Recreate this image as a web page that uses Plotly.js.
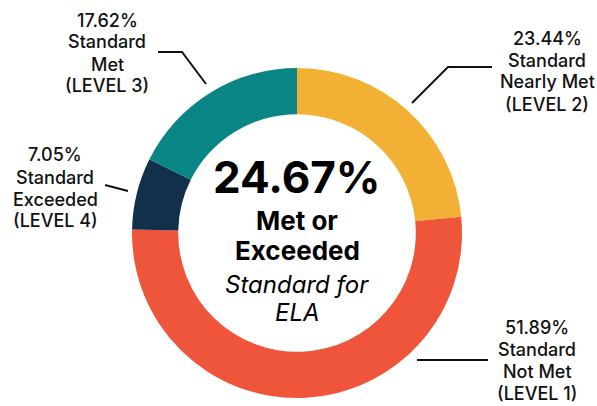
<!DOCTYPE html>
<html>
<head>
<meta charset="utf-8">
<script src="https://cdn.plot.ly/plotly-3.0.1.min.js"></script>
<style>html,body{margin:0;padding:0;background:#fff;}#chart{width:597px;height:406px;}</style>
</head>
<body>
<div id="chart"></div>
<script>
// ---- data ----
const categories = ['Standard Nearly Met (LEVEL 2)', 'Standard Not Met (LEVEL 1)', 'Standard Exceeded (LEVEL 4)', 'Standard Met (LEVEL 3)'];
const values = [23.44, 51.89, 7.05, 17.62];
const colors = ['#F2B134', '#EE553B', '#12304A', '#0A8585'];
const labelWords = [
  ['Standard', 'Nearly Met', '(LEVEL 2)'],
  ['Standard', 'Not Met', '(LEVEL 1)'],
  ['Standard', 'Exceeded', '(LEVEL 4)'],
  ['Standard', 'Met', '(LEVEL 3)']
];
const centerValue = (values[2] + values[3]).toFixed(2) + '%';
const centerLines = ['Met or', 'Exceeded', 'Standard for', 'ELA'];

// ---- layout helpers (pixel positions) ----
const W = 597, H = 406;
const px = x => x / W;
const py = y => 1 - y / H;
const cx = 297, cy = 233, R = 165;

// label anchor positions: [center x, first-line center y]
const labelPos = [[547, 38], [537, 327], [55, 155], [107, 20]];
const linePitch = 22;
const FAM = 'Inter, Roboto, sans-serif';
const labelFont = {family: FAM, size: 18, color: '#111111', weight: 500};

const annotations = [];
values.forEach((v, i) => {
  const lines = [v.toFixed(2) + '%'].concat(labelWords[i]);
  lines.forEach((t, j) => {
    annotations.push({
      xref: 'paper', yref: 'paper', x: px(labelPos[i][0]), y: py(labelPos[i][1] + j * linePitch),
      xanchor: 'center', yanchor: 'middle', text: t, showarrow: false, font: labelFont
    });
  });
});

// center text
annotations.push({xref: 'paper', yref: 'paper', x: px(cx), y: py(177), xanchor: 'center', yanchor: 'middle',
  text: centerValue, showarrow: false,
  font: {family: FAM, size: 44, color: '#000', weight: 700}});
const centerY = [220, 250, 284, 312];
centerLines.forEach((t, j) => {
  const italic = j >= 2;
  annotations.push({xref: 'paper', yref: 'paper', x: px(cx), y: py(centerY[j]), xanchor: 'center', yanchor: 'middle',
    text: t, showarrow: false,
    font: {family: FAM, size: italic ? 24 : 26, color: '#000', weight: italic ? 400 : 700, style: italic ? 'italic' : 'normal'}});
});

// leader lines
const leaders = [
  [[492, 67], [448, 67], [412, 103]],
  [[488, 360], [417, 360]],
  [[105, 185], [128, 191]],
  [[158, 52], [182, 52], [206, 84]]
];
const shapes = leaders.map(pts => ({
  type: 'path', xref: 'paper', yref: 'paper',
  path: pts.map((p, k) => (k ? 'L' : 'M') + px(p[0]) + ',' + py(p[1])).join(' '),
  line: {color: '#111111', width: 2}
}));

const trace = {
  type: 'pie',
  labels: categories,
  values: values,
  marker: {colors: colors, line: {color: '#ffffff', width: 0}},
  hole: 0.72,
  sort: false,
  direction: 'clockwise',
  rotation: 0,
  textinfo: 'none',
  hoverinfo: 'label+percent',
  domain: {x: [px(cx - R), px(cx + R)], y: [py(cy + R), py(cy - R)]}
};

const layout = {
  width: W, height: H,
  margin: {l: 0, r: 0, t: 0, b: 0},
  paper_bgcolor: '#ffffff',
  showlegend: false,
  annotations: annotations,
  shapes: shapes
};

Plotly.newPlot('chart', [trace], layout, {displayModeBar: false, staticPlot: true});
</script>
</body>
</html>
